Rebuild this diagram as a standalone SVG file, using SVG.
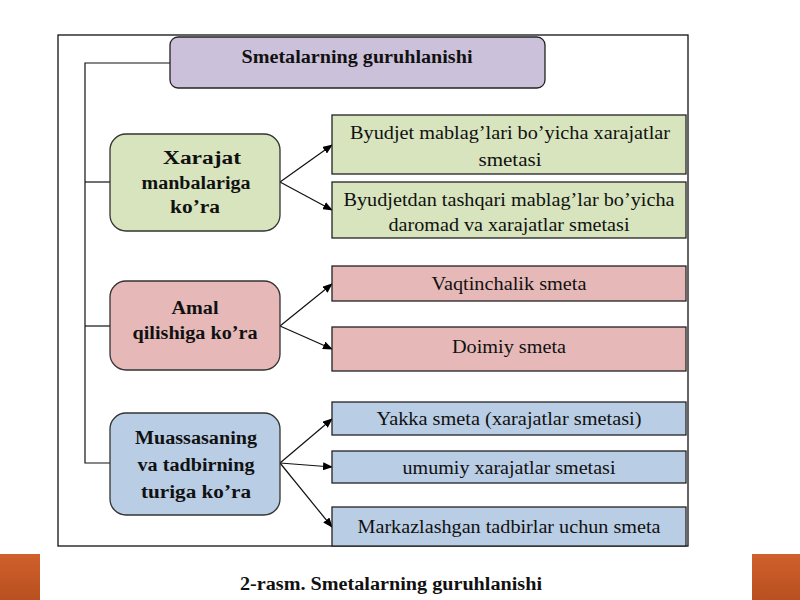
<svg xmlns="http://www.w3.org/2000/svg" width="800" height="600" viewBox="0 0 800 600" font-family="Liberation Serif, Times New Roman, DejaVu Serif, serif">
<defs>
<marker id="ah" markerWidth="10" markerHeight="8" refX="9" refY="4" orient="auto" markerUnits="userSpaceOnUse">
<path d="M0,0 L10,4 L0,8 Z" fill="#000"/>
</marker>
<linearGradient id="og" x1="0" y1="0" x2="0" y2="1">
<stop offset="0" stop-color="#d0602c"/><stop offset="1" stop-color="#b8501f"/>
</linearGradient>
</defs>
<style>
.cat{stroke:#333;stroke-width:1.3}
.box{stroke:#222;stroke-width:1.3}
.g{fill:#d7e4bd}.r{fill:#e6b9b8}.b{fill:#b9cde5}.p{fill:#ccc1da}
text{font-family:'Liberation Serif','Times New Roman','DejaVu Serif',serif}
.bt{font-weight:bold;font-size:18px;fill:#111;text-anchor:middle}
.t{font-size:18px;fill:#111;text-anchor:middle}
.ln{fill:none;stroke:#111;stroke-width:1.2}
</style>
<rect width="800" height="600" fill="#fff"/>
<rect x="0" y="554" width="40" height="46" fill="url(#og)"/>
<rect x="752" y="554" width="48" height="46" fill="url(#og)"/>
<rect id="frame" x="58" y="35" width="630" height="511" fill="none" stroke="#111" stroke-width="1.3"/>
<g id="connectors">
<path class="ln" d="M170,63 H85 V463 H110"/>
<path class="ln" d="M85,182 H110"/>
<path class="ln" d="M85,326 H110"/>
<line class="ln" x1="280" y1="182" x2="332" y2="145" marker-end="url(#ah)"/>
<line class="ln" x1="280" y1="182" x2="332" y2="210" marker-end="url(#ah)"/>
<line class="ln" x1="280" y1="326" x2="332" y2="284" marker-end="url(#ah)"/>
<line class="ln" x1="280" y1="326" x2="332" y2="349" marker-end="url(#ah)"/>
<line class="ln" x1="280" y1="463" x2="332" y2="419" marker-end="url(#ah)"/>
<line class="ln" x1="280" y1="463" x2="332" y2="467" marker-end="url(#ah)"/>
<line class="ln" x1="280" y1="463" x2="332" y2="527" marker-end="url(#ah)"/>
</g>
<g id="title"><rect class="box p" x="170" y="37" width="375" height="51" rx="8"/><text class="bt" x="357" y="63" textLength="231" lengthAdjust="spacingAndGlyphs">Smetalarning guruhlanishi</text></g>
<g id="n-xarajat"><rect class="cat g" x="110" y="134" width="170" height="97" rx="16"/>
<text class="bt" x="202" y="164" textLength="78" lengthAdjust="spacingAndGlyphs">Xarajat</text><text class="bt" x="196" y="189" textLength="109" lengthAdjust="spacingAndGlyphs">manbalariga</text><text class="bt" x="195" y="213" textLength="50" lengthAdjust="spacingAndGlyphs">ko’ra</text></g>
<g id="n-g1"><rect class="box g" x="332" y="115" width="354" height="59"/><text class="t" x="510" y="139" textLength="320" lengthAdjust="spacingAndGlyphs">Byudjet mablag’lari bo’yicha xarajatlar</text><text class="t" x="510" y="166" textLength="63" lengthAdjust="spacingAndGlyphs">smetasi</text></g>
<g id="n-g2"><rect class="box g" x="332" y="182" width="354" height="56"/><text class="t" x="509" y="206" textLength="331" lengthAdjust="spacingAndGlyphs">Byudjetdan tashqari mablag’lar bo’yicha</text><text class="t" x="509" y="231" textLength="241" lengthAdjust="spacingAndGlyphs">daromad va xarajatlar smetasi</text></g>
<g id="n-amal"><rect class="cat r" x="110" y="281" width="170" height="89" rx="16"/>
<text class="bt" x="195" y="314" textLength="47" lengthAdjust="spacingAndGlyphs">Amal</text><text class="bt" x="195" y="339" textLength="125" lengthAdjust="spacingAndGlyphs">qilishiga ko’ra</text></g>
<g id="n-r1"><rect class="box r" x="332" y="266" width="354" height="35"/><text class="t" x="509" y="290" textLength="155" lengthAdjust="spacingAndGlyphs">Vaqtinchalik smeta</text></g>
<g id="n-r2"><rect class="box r" x="332" y="327" width="354" height="44"/><text class="t" x="509" y="353" textLength="114" lengthAdjust="spacingAndGlyphs">Doimiy smeta</text></g>
<g id="n-muassasa"><rect class="cat b" x="110" y="413" width="170" height="102" rx="16"/>
<text class="bt" x="196" y="444" textLength="122" lengthAdjust="spacingAndGlyphs">Muassasaning</text><text class="bt" x="196" y="471" textLength="117" lengthAdjust="spacingAndGlyphs">va tadbirning</text><text class="bt" x="196" y="498" textLength="110" lengthAdjust="spacingAndGlyphs">turiga ko’ra</text></g>
<g id="n-b1"><rect class="box b" x="332" y="402" width="354" height="33"/><text class="t" x="509" y="425" textLength="265" lengthAdjust="spacingAndGlyphs">Yakka smeta (xarajatlar smetasi)</text></g>
<g id="n-b2"><rect class="box b" x="332" y="451" width="354" height="32"/><text class="t" x="509" y="474" textLength="213" lengthAdjust="spacingAndGlyphs">umumiy xarajatlar smetasi</text></g>
<g id="n-b3"><rect class="box b" x="332" y="507" width="354" height="39"/><text class="t" x="509" y="533" textLength="303" lengthAdjust="spacingAndGlyphs">Markazlashgan tadbirlar uchun smeta</text></g>
<text class="bt" x="391" y="590" textLength="302" lengthAdjust="spacingAndGlyphs">2-rasm. Smetalarning guruhlanishi</text>
</svg>
